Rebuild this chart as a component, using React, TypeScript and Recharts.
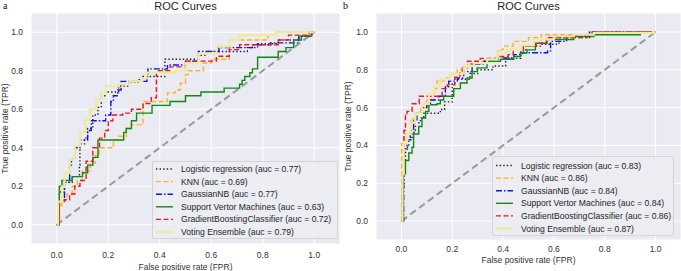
import React from "react";
import { LineChart, Line, XAxis, YAxis, CartesianGrid, Label } from "recharts";

type Pt = [number, number];

const models = [
  "Logistic regression",
  "KNN",
  "GaussianNB",
  "Support Vertor Machines",
  "GradientBoostingClassifier",
  "Voting Ensemble",
];
const aucA = [0.77, 0.69, 0.77, 0.63, 0.72, 0.79];
const aucB = [0.83, 0.86, 0.84, 0.84, 0.86, 0.87];
const ticks = [0, 0.2, 0.4, 0.6, 0.8, 1.0];
const chance: Pt[] = [[0, 0], [1, 1]];

// panel a: [fpr, tpr] at the top of each step
const lrA: Pt[] = [[0, 0], [0.01, 0.17], [0.03, 0.22], [0.06, 0.25], [0.088, 0.31], [0.09, 0.42], [0.108, 0.45], [0.12, 0.5], [0.14, 0.57], [0.16, 0.61], [0.173, 0.67], [0.19, 0.69], [0.24, 0.72], [0.28, 0.74], [0.32, 0.76], [0.335, 0.77], [0.42, 0.86], [0.55, 0.88], [0.58, 0.9], [0.74, 0.92], [0.78, 0.94], [0.86, 0.96], [0.94, 0.98], [0.98, 1.0], [1, 1]];
const knnA: Pt[] = [[0, 0], [0.005, 0.05], [0.01, 0.1], [0.02, 0.13], [0.04, 0.16], [0.06, 0.2], [0.08, 0.23], [0.1, 0.28], [0.13, 0.32], [0.15, 0.36], [0.165, 0.4], [0.22, 0.44], [0.24, 0.46], [0.27, 0.5], [0.29, 0.52], [0.335, 0.64], [0.43, 0.685], [0.46, 0.7], [0.48, 0.735], [0.5, 0.78], [0.51, 0.8], [0.57, 0.84], [0.6, 0.86], [0.67, 0.96], [0.82, 0.985], [0.85, 1.0], [1, 1]];
const gnbA: Pt[] = [[0, 0], [0.01, 0.12], [0.03, 0.22], [0.05, 0.31], [0.057, 0.34], [0.07, 0.4], [0.09, 0.44], [0.12, 0.49], [0.134, 0.54], [0.19, 0.57], [0.21, 0.64], [0.22, 0.67], [0.237, 0.7], [0.25, 0.745], [0.35, 0.77], [0.354, 0.81], [0.43, 0.83], [0.5, 0.85], [0.55, 0.9], [0.63, 0.92], [0.76, 0.935], [0.83, 0.945], [0.94, 0.98], [0.99, 1.0], [1, 1]];
const svmA: Pt[] = [[0, 0], [0.01, 0.2], [0.02, 0.23], [0.06, 0.25], [0.1, 0.27], [0.12, 0.31], [0.14, 0.35], [0.16, 0.44], [0.26, 0.48], [0.27, 0.5], [0.29, 0.54], [0.31, 0.58], [0.37, 0.62], [0.44, 0.64], [0.5, 0.67], [0.56, 0.69], [0.65, 0.71], [0.71, 0.73], [0.72, 0.75], [0.73, 0.77], [0.75, 0.79], [0.76, 0.81], [0.78, 0.87], [0.86, 0.9], [0.89, 0.92], [0.92, 0.96], [0.95, 0.98], [0.99, 1.0], [1, 1]];
const gbcA: Pt[] = [[0, 0], [0.01, 0.12], [0.03, 0.13], [0.05, 0.16], [0.07, 0.2], [0.09, 0.23], [0.114, 0.33], [0.14, 0.4], [0.166, 0.45], [0.186, 0.49], [0.2, 0.54], [0.218, 0.57], [0.256, 0.58], [0.29, 0.6], [0.335, 0.63], [0.367, 0.66], [0.387, 0.8], [0.44, 0.82], [0.5, 0.85], [0.62, 0.875], [0.67, 0.91], [0.71, 0.935], [0.86, 0.96], [0.9, 0.985], [0.99, 1.0], [1, 1]];
const votA: Pt[] = [[0, 0], [0.005, 0.12], [0.02, 0.2], [0.03, 0.27], [0.05, 0.34], [0.07, 0.41], [0.09, 0.48], [0.11, 0.545], [0.128, 0.6], [0.153, 0.65], [0.173, 0.684], [0.19, 0.72], [0.24, 0.73], [0.283, 0.745], [0.33, 0.76], [0.348, 0.79], [0.46, 0.8], [0.5, 0.84], [0.55, 0.89], [0.62, 0.925], [0.67, 0.96], [0.71, 0.985], [0.85, 1.0], [1, 1]];

// panel b
const lrB: Pt[] = [[0, 0], [0.003, 0.18], [0.01, 0.32], [0.016, 0.39], [0.029, 0.43], [0.042, 0.47], [0.055, 0.52], [0.075, 0.545], [0.088, 0.57], [0.153, 0.59], [0.17, 0.63], [0.2, 0.73], [0.21, 0.75], [0.27, 0.78], [0.3, 0.8], [0.36, 0.82], [0.41, 0.86], [0.47, 0.9], [0.49, 0.925], [0.55, 0.935], [0.62, 0.97], [0.74, 0.995], [0.75, 1.0], [1, 1]];
const knnB: Pt[] = [[0, 0], [0.001, 0.41], [0.01, 0.46], [0.036, 0.54], [0.055, 0.57], [0.075, 0.6], [0.1, 0.64], [0.128, 0.7], [0.14, 0.74], [0.166, 0.756], [0.193, 0.78], [0.22, 0.8], [0.26, 0.83], [0.31, 0.845], [0.35, 0.86], [0.38, 0.905], [0.4, 0.925], [0.44, 0.95], [0.5, 0.97], [0.55, 0.985], [0.74, 1.0], [1, 1]];
const gnbB: Pt[] = [[0, 0], [0.009, 0.38], [0.022, 0.43], [0.035, 0.48], [0.048, 0.535], [0.061, 0.57], [0.08, 0.6], [0.1, 0.615], [0.114, 0.64], [0.147, 0.66], [0.173, 0.71], [0.186, 0.74], [0.22, 0.756], [0.245, 0.79], [0.278, 0.83], [0.325, 0.845], [0.363, 0.855], [0.4, 0.862], [0.442, 0.88], [0.475, 0.89], [0.575, 0.9], [0.587, 0.95], [0.65, 0.98], [0.74, 1.0], [1, 1]];
const svmB: Pt[] = [[0, 0], [0.007, 0.25], [0.016, 0.32], [0.029, 0.36], [0.042, 0.39], [0.048, 0.46], [0.068, 0.5], [0.081, 0.545], [0.095, 0.58], [0.108, 0.615], [0.14, 0.62], [0.153, 0.64], [0.166, 0.66], [0.206, 0.7], [0.232, 0.73], [0.258, 0.756], [0.278, 0.79], [0.298, 0.81], [0.337, 0.845], [0.39, 0.855], [0.442, 0.87], [0.468, 0.89], [0.494, 0.905], [0.527, 0.94], [0.573, 0.96], [0.678, 0.975], [0.757, 0.985], [0.94, 1.0], [1, 1]];
const gbcB: Pt[] = [[0, 0], [0.004, 0.25], [0.01, 0.48], [0.016, 0.56], [0.022, 0.58], [0.042, 0.62], [0.07, 0.66], [0.16, 0.7], [0.18, 0.72], [0.21, 0.76], [0.23, 0.79], [0.24, 0.82], [0.26, 0.845], [0.31, 0.86], [0.38, 0.87], [0.42, 0.88], [0.44, 0.905], [0.48, 0.925], [0.53, 0.94], [0.57, 0.97], [0.73, 0.985], [0.76, 1.0], [1, 1]];
const votB: Pt[] = [[0, 0], [0.004, 0.25], [0.009, 0.41], [0.022, 0.46], [0.036, 0.52], [0.055, 0.57], [0.081, 0.62], [0.108, 0.67], [0.127, 0.71], [0.153, 0.75], [0.193, 0.78], [0.245, 0.82], [0.285, 0.835], [0.337, 0.855], [0.377, 0.89], [0.416, 0.905], [0.468, 0.93], [0.521, 0.96], [0.6, 0.977], [0.678, 0.985], [0.757, 0.995], [0.99, 1.0], [1, 1]];

const FONT = '"Liberation Sans", Arial, sans-serif';
const TEXT = "#333";

const lineStyles = [
  { stroke: "#222", dash: "1.4 2.2", width: 1.4 },
  { stroke: "#FFB030", dash: "5 2.5", width: 1.4 },
  { stroke: "#1010F0", dash: "6 2 1.5 2", width: 1.4 },
  { stroke: "#118811", dash: undefined, width: 1.4 },
  { stroke: "#F01818", dash: "5 2.5", width: 1.4 },
  { stroke: "#EFEA9E", dash: undefined, width: 2.2 },
];

const toRows = (pts: Pt[]) => pts.map(([fpr, tpr]) => ({ fpr, tpr }));

interface PanelProps {
  letter: string;
  curves: Pt[][];
  aucs: number[];
  left: number;
  width: number;
  plotTop: number;
  yAxisWidth: number;
  xAxisHeight: number;
  tickMargin: number;
  xLabelDy: number;
  yLabelX: number;
  legend: { left: number; top: number; width: number; height: number; first: number };
}

function Panel(p: PanelProps) {
  const plotLeft = p.left + p.yAxisWidth;
  const plotWidth = p.width - p.yAxisWidth;
  return (
    <>
      <div
        style={{
          position: "absolute",
          left: p.left + 3,
          top: 0,
          fontFamily: '"Liberation Serif", "Times New Roman", serif',
          fontSize: 10,
          lineHeight: "11px",
          color: "#111",
        }}
      >
        {p.letter}
      </div>
      <div
        style={{
          position: "absolute",
          left: plotLeft,
          width: plotWidth,
          top: 0,
          textAlign: "center",
          fontFamily: FONT,
          fontSize: 11,
          lineHeight: "12px",
          color: "#262626",
        }}
      >
        ROC Curves
      </div>
      <div style={{ position: "absolute", left: p.left, top: 0 }}>
        <LineChart
          width={p.width}
          height={271}
          margin={{ top: p.plotTop, right: 0, bottom: 0, left: 0 }}
        >
          <CartesianGrid fill="#EAEAF2" stroke="#FFFFFF" strokeWidth={1} />
          <XAxis
            dataKey="fpr"
            type="number"
            domain={[-0.1, 1.1]}
            ticks={ticks}
            allowDataOverflow
            height={p.xAxisHeight}
            axisLine={false}
            tickLine={false}
            tickMargin={p.tickMargin}
            tick={{ fontSize: 8.5, fill: TEXT, fontFamily: FONT }}
            tickFormatter={(v: number) => v.toFixed(1)}
          >
            <Label
              content={(props: any) => {
                const vb = props.viewBox;
                return (
                  <text
                    x={vb.x + vb.width / 2}
                    y={vb.y + p.xLabelDy}
                    textAnchor="middle"
                    dominantBaseline="central"
                    fontSize={8.5}
                    fill={TEXT}
                    fontFamily={FONT}
                  >
                    False positive rate (FPR)
                  </text>
                );
              }}
            />
          </XAxis>
          <YAxis
            type="number"
            domain={[-0.1, 1.1]}
            ticks={ticks}
            allowDataOverflow
            width={p.yAxisWidth}
            axisLine={false}
            tickLine={false}
            tick={{ fontSize: 8.5, fill: TEXT, fontFamily: FONT }}
            tickFormatter={(v: number) => v.toFixed(1)}
          >
            <Label
              content={(props: any) => {
                const vb = props.viewBox;
                const cx = p.yLabelX;
                const cy = vb.y + vb.height / 2;
                return (
                  <text
                    x={cx}
                    y={cy}
                    transform={`rotate(-90 ${cx} ${cy})`}
                    textAnchor="middle"
                    dominantBaseline="central"
                    fontSize={8.5}
                    fill={TEXT}
                    fontFamily={FONT}
                  >
                    True positive rate (TPR)
                  </text>
                );
              }}
            />
          </YAxis>
          <Line
            data={toRows(chance)}
            dataKey="tpr"
            type="linear"
            stroke="#999"
            strokeWidth={2}
            strokeDasharray="7 4"
            dot={false}
            isAnimationActive={false}
          />
          {p.curves.map((c, i) => (
            <Line
              key={models[i]}
              data={toRows(c)}
              dataKey="tpr"
              name={models[i]}
              type="stepAfter"
              stroke={lineStyles[i].stroke}
              strokeWidth={lineStyles[i].width}
              strokeDasharray={lineStyles[i].dash}
              dot={false}
              isAnimationActive={false}
            />
          ))}
        </LineChart>
      </div>
      <div
        style={{
          position: "absolute",
          left: p.legend.left,
          top: p.legend.top,
          width: p.legend.width,
          height: p.legend.height,
          boxSizing: "border-box",
          border: "1px solid #D4D4D8",
          borderRadius: 2,
          background: "rgba(236,236,243,0.85)",
        }}
      >
        <svg width={p.legend.width - 2} height={p.legend.height - 2} style={{ display: "block" }}>
          {models.map((m, i) => {
            const y = p.legend.first + i * 12.6;
            return (
              <g key={m}>
                <line
                  x1={3}
                  x2={20}
                  y1={y}
                  y2={y}
                  stroke={lineStyles[i].stroke}
                  strokeWidth={lineStyles[i].width}
                  strokeDasharray={lineStyles[i].dash}
                />
                <text x={28} y={y} dominantBaseline="central" fontSize={8.6} fill="#262626" fontFamily={FONT}>
                  {`${m} (auc = ${p.aucs[i].toFixed(2)})`}
                </text>
              </g>
            );
          })}
        </svg>
      </div>
    </>
  );
}

export default function App() {
  return (
    <div
      style={{
        position: "absolute",
        left: 0,
        top: 0,
        width: 681,
        height: 271,
        overflow: "hidden",
        background: "#fff",
      }}
    >
      <Panel
        letter="a"
        curves={[lrA, knnA, gnbA, svmA, gbcA, votA]}
        aucs={aucA}
        left={0}
        width={340}
        plotTop={13}
        yAxisWidth={31}
        xAxisHeight={27}
        tickMargin={2}
        xLabelDy={23}
        yLabelX={5}
        legend={{ left: 152, top: 161, width: 186, height: 78, first: 7 }}
      />
      <Panel
        letter="b"
        curves={[lrB, knnB, gnbB, svmB, gbcB, votB]}
        aucs={aucB}
        left={340}
        width={341}
        plotTop={13}
        yAxisWidth={36}
        xAxisHeight={31}
        tickMargin={0}
        xLabelDy={20}
        yLabelX={8}
        legend={{ left: 492, top: 156, width: 182, height: 80, first: 8.5 }}
      />
    </div>
  );
}
